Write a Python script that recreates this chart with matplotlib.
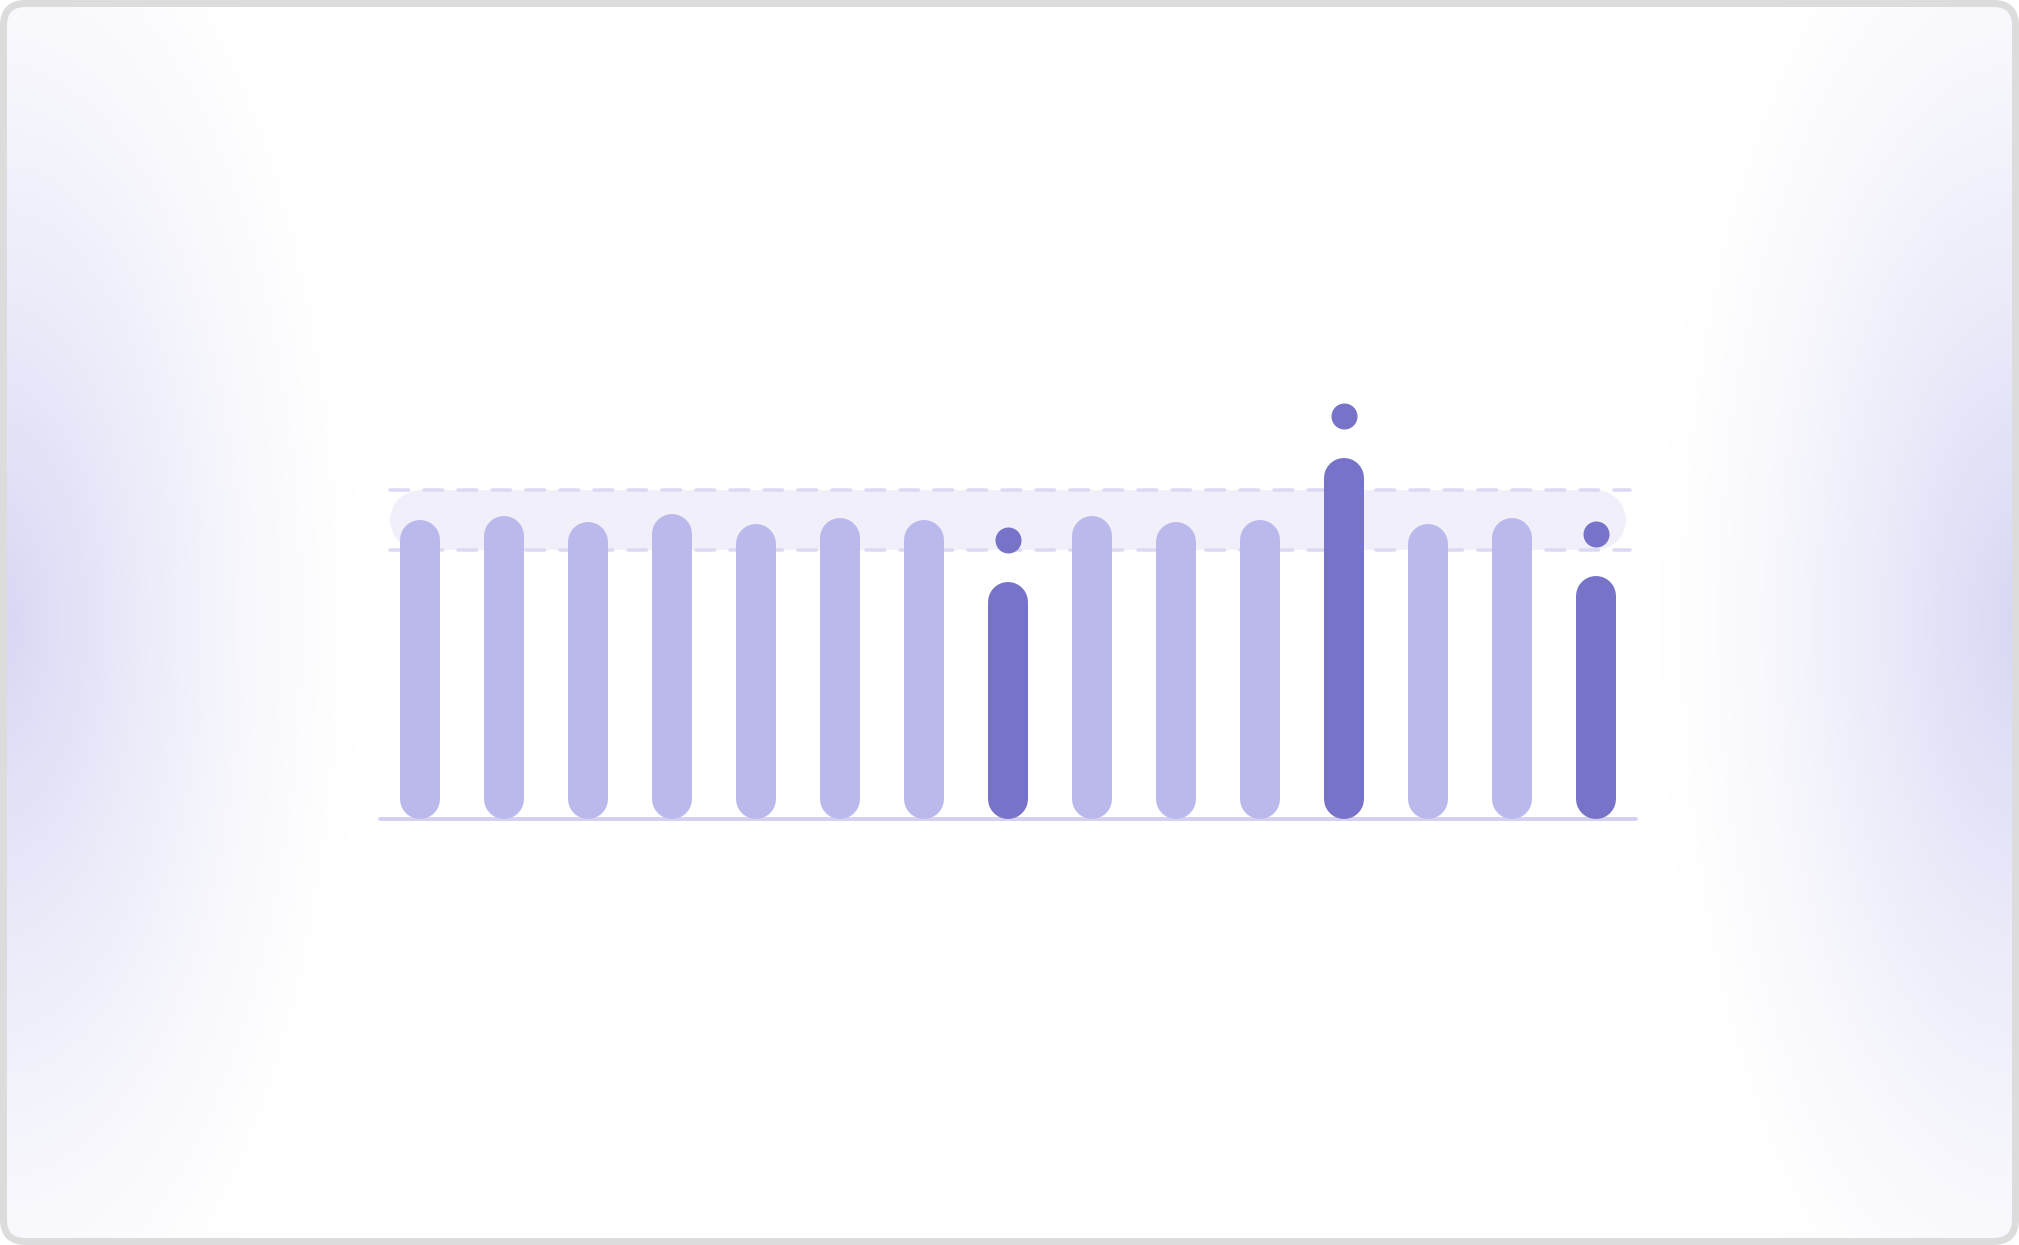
import numpy as np
import matplotlib
matplotlib.use("Agg")
import matplotlib.pyplot as plt
from matplotlib.patches import FancyBboxPatch

# data: 15 readings, normal band 90-110, three flagged points with markers
values = [100, 101.3, 99.3, 102, 98.7, 100.7, 100, 79.3, 101.3, 99.3, 100, 120.7, 98.7, 100.7, 81.3]
band_low = 90
band_high = 110
flag_idx = [7, 11, 14]
flag_vals = [93.4, 134.8, 95.4]

W, H, DPI = 2019, 1245, 100
light = "#bbb9ec"
dark = "#7673c8"

def pt(px):
    return px * 72.0 / DPI

fig = plt.figure(figsize=(W / DPI, H / DPI), dpi=DPI)
fig.patch.set_facecolor("white")

# background card with soft glows on both sides
bg = fig.add_axes([0, 0, 1, 1])
bg.set_xlim(0, W)
bg.set_ylim(H, 0)
bg.axis("off")

yy, xx = np.mgrid[0:H, 0:W].astype(float)
t1 = np.sqrt((xx / 360.0) ** 2 + ((yy - 620) / 820.0) ** 2)
t2 = np.sqrt(((xx - W) / 360.0) ** 2 + ((yy - 620) / 820.0) ** 2)
i1 = np.clip(1 - t1, 0, 1) ** 1.4
i2 = np.clip(1 - t2, 0, 1) ** 1.4
inten = 1 - (1 - i1) * (1 - i2)
peak = np.array([215, 215, 245]) / 255.0
img = np.ones((H, W, 3)) * (1 - inten[..., None]) + peak * inten[..., None]
im = bg.imshow(img, extent=(0, W, H, 0), interpolation="bilinear", zorder=0)

card = FancyBboxPatch((3.5, 3.5), W - 7, H - 7, boxstyle="round,pad=0,rounding_size=22",
                      facecolor="none", edgecolor="#dcdcdc", linewidth=pt(7), zorder=2)
bg.add_patch(card)
im.set_clip_path(card)

# chart
ax_left, ax_bottom = 378, 426
ax_w, ax_h = 1260, 448.5
ymax = 150
ax = fig.add_axes([ax_left / W, ax_bottom / H, ax_w / W, ax_h / H])
ax.set_xlim(-0.5, 14.5)
ax.set_ylim(0, ymax)
ax.axis("off")
ax.patch.set_alpha(0)

px_y = ax_h / ymax
bar_w = 40
r = bar_w / 2 / px_y
x = np.arange(len(values))

# normal band
band_mid = (band_low + band_high) / 2
band_px = (band_high - band_low) * px_y
ax.plot([0, len(values) - 1], [band_mid, band_mid], color="#f1effa", linewidth=pt(band_px),
        solid_capstyle="round", zorder=1, clip_on=False)
dash_lw = 3.5
for yv in (band_low, band_high):
    ax.plot([-0.36, 14.4], [yv, yv], color="#dcd9f5", linewidth=pt(dash_lw),
            dashes=(18.5 / dash_lw, 15.5 / dash_lw), dash_capstyle="round", zorder=2, clip_on=False)

# baseline
ax.plot([-0.48, 14.48], [0, 0], color="#d6d1f0", linewidth=pt(4),
        solid_capstyle="round", zorder=2, clip_on=False)

colors = [dark if (v < band_low or v > band_high) else light for v in values]
ax.vlines(x, r, np.array(values) - r, colors=colors, linewidth=pt(bar_w),
          capstyle="round", zorder=3, clip_on=False)

ax.scatter(flag_idx, flag_vals, s=pt(26) ** 2, color=dark, zorder=4, clip_on=False, linewidths=0)

fig.savefig("out.png", dpi=DPI)
